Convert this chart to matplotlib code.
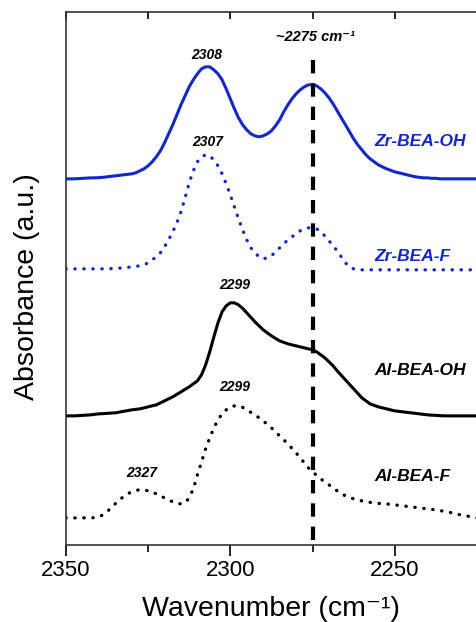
import matplotlib
matplotlib.use("Agg")
import matplotlib.pyplot as plt

plt.rcParams['font.family'] = ['Liberation Sans', 'DejaVu Sans']

# wavenumber grid (cm-1), 1.25 cm-1 steps from 2350 down to 2225
wn = [2350 - 1.25 * i for i in range(101)]

# offset absorbance traces (a.u.), ten points per row
zr_oh = [3.66, 3.66, 3.66, 3.662, 3.665, 3.667, 3.67, 3.67, 3.672, 3.675,
         3.68, 3.685, 3.69, 3.695, 3.70, 3.705, 3.71, 3.72, 3.74, 3.76,
         3.79, 3.83, 3.88, 3.94, 4.02, 4.11, 4.20, 4.30, 4.40, 4.49,
         4.58, 4.65, 4.71, 4.76, 4.78, 4.78, 4.75, 4.71, 4.65, 4.56,
         4.46, 4.36, 4.27, 4.20, 4.15, 4.11, 4.09, 4.08, 4.09, 4.11,
         4.14, 4.19, 4.25, 4.33, 4.40, 4.46, 4.51, 4.55, 4.58, 4.60,
         4.60, 4.59, 4.56, 4.52, 4.47, 4.41, 4.34, 4.27, 4.20, 4.13,
         4.06, 4.00, 3.95, 3.90, 3.86, 3.83, 3.80, 3.78, 3.76, 3.745,
         3.73, 3.72, 3.71, 3.70, 3.69, 3.68, 3.675, 3.67, 3.67, 3.665,
         3.665, 3.66, 3.66, 3.66, 3.66, 3.66, 3.66, 3.66, 3.66, 3.66,
         3.66]
zr_f = [2.76, 2.76, 2.76, 2.76, 2.76, 2.76, 2.76, 2.76, 2.76, 2.76,
        2.76, 2.762, 2.765, 2.767, 2.77, 2.775, 2.78, 2.785, 2.79, 2.80,
        2.82, 2.85, 2.88, 2.92, 2.98, 3.05, 3.13, 3.22, 3.33, 3.47,
        3.62, 3.74, 3.83, 3.88, 3.90, 3.89, 3.85, 3.79, 3.71, 3.61,
        3.50, 3.38, 3.26, 3.15, 3.05, 2.97, 2.92, 2.88, 2.86, 2.87,
        2.89, 2.93, 2.97, 3.01, 3.05, 3.08, 3.11, 3.14, 3.16, 3.17,
        3.17, 3.16, 3.13, 3.09, 3.04, 2.99, 2.94, 2.88, 2.82, 2.78,
        2.76, 2.75, 2.75, 2.75, 2.75, 2.75, 2.75, 2.75, 2.75, 2.75,
        2.75, 2.75, 2.75, 2.75, 2.75, 2.75, 2.75, 2.75, 2.75, 2.75,
        2.75, 2.75, 2.75, 2.75, 2.75, 2.75, 2.75, 2.75, 2.75, 2.75,
        2.75]
al_oh = [1.29, 1.29, 1.29, 1.292, 1.295, 1.297, 1.30, 1.305, 1.31, 1.312,
         1.315, 1.318, 1.32, 1.327, 1.335, 1.342, 1.35, 1.355, 1.36, 1.37,
         1.38, 1.39, 1.40, 1.42, 1.44, 1.46, 1.48, 1.505, 1.53, 1.555,
         1.58, 1.61, 1.64, 1.70, 1.80, 1.93, 2.08, 2.22, 2.33, 2.39,
         2.42, 2.42, 2.40, 2.365, 2.32, 2.275, 2.23, 2.19, 2.15, 2.12,
         2.09, 2.065, 2.04, 2.025, 2.01, 2.00, 1.99, 1.98, 1.97, 1.96,
         1.95, 1.93, 1.90, 1.87, 1.83, 1.79, 1.74, 1.695, 1.65, 1.605,
         1.56, 1.515, 1.47, 1.44, 1.41, 1.395, 1.38, 1.37, 1.36, 1.35,
         1.34, 1.335, 1.33, 1.325, 1.32, 1.315, 1.31, 1.305, 1.30, 1.297,
         1.295, 1.292, 1.29, 1.29, 1.29, 1.29, 1.29, 1.29, 1.29, 1.29,
         1.29]
al_f = [0.27, 0.27, 0.27, 0.27, 0.27, 0.27, 0.27, 0.272, 0.28, 0.30,
        0.33, 0.37, 0.41, 0.45, 0.48, 0.51, 0.53, 0.545, 0.55, 0.55,
        0.54, 0.53, 0.51, 0.49, 0.47, 0.45, 0.43, 0.415, 0.41, 0.42,
        0.47, 0.56, 0.70, 0.83, 0.96, 1.07, 1.17, 1.25, 1.31, 1.35,
        1.38, 1.39, 1.39, 1.375, 1.35, 1.325, 1.30, 1.27, 1.24, 1.205,
        1.17, 1.13, 1.09, 1.05, 1.01, 0.965, 0.92, 0.87, 0.82, 0.77,
        0.73, 0.695, 0.66, 0.63, 0.60, 0.57, 0.54, 0.515, 0.49, 0.475,
        0.46, 0.45, 0.44, 0.432, 0.425, 0.42, 0.415, 0.412, 0.41, 0.405,
        0.40, 0.395, 0.39, 0.385, 0.38, 0.375, 0.37, 0.365, 0.36, 0.355,
        0.35, 0.343, 0.335, 0.328, 0.32, 0.31, 0.30, 0.293, 0.285, 0.278,
        0.27]

names = ["Zr-BEA-OH", "Zr-BEA-F", "Al-BEA-OH", "Al-BEA-F"]
name_y = [4.03, 2.88, 1.74, 0.68]

# peak annotations: (wavenumber, text y, label)
peaks = [(2307.3, 4.90, "2308"), (2306.8, 4.03, "2307"),
         (2298.7, 2.60, "2299"), (2298.7, 1.58, "2299"),
         (2327.0, 0.72, "2327")]

blue = "#1428c8"

fig = plt.figure(figsize=(4.77, 6.22), dpi=100)
ax = fig.add_axes([0.138, 0.124, 0.862, 0.857])

dots = (0, (0.1, 2.6))
ax.plot(wn, zr_oh, color=blue, lw=2.2)
ax.plot(wn, zr_f, color=blue, lw=2.4, linestyle=dots, dash_capstyle="round")
ax.plot(wn, al_oh, color="black", lw=2.2)
ax.plot(wn, al_f, color="black", lw=2.4, linestyle=dots, dash_capstyle="round")

# reference line for the shared band
ax.plot([2275, 2275], [0.05, 4.93], color="black", lw=3, linestyle=(0, (3.2, 2.4)))
ax.text(2274, 5.08, "~2275 cm\u207b\u00b9", ha="center", va="center",
        fontsize=10.5, fontweight="bold", fontstyle="italic")

for w, y, t in peaks:
    ax.text(w, y, t, ha="center", va="center", fontsize=10,
            fontweight="bold", fontstyle="italic")

for n, y, c in zip(names, name_y, [blue, blue, "black", "black"]):
    ax.text(2256.3, y, n, ha="left", va="center", fontsize=12.5,
            fontweight="bold", fontstyle="italic", color=c)

ax.set_xlim(2350, 2225)
ax.set_ylim(0, 5.33)
ax.set_xticks([2350, 2300, 2250])
ax.set_xticks([2325, 2275, 2225], minor=True)
ax.set_yticks([])
ax.tick_params(axis="x", which="major", direction="out", length=8, width=1.2,
               labelsize=16, pad=3, top=True)
ax.tick_params(axis="x", which="minor", direction="out", length=5, width=1.2, top=True)
ax.spines["right"].set_visible(False)
for s in ["left", "top", "bottom"]:
    ax.spines[s].set_linewidth(1.2)
    ax.spines[s].set_color("#333333")

# top ticks point into the plot
for t in ax.xaxis.get_major_ticks() + ax.xaxis.get_minor_ticks():
    t.tick2line.set_marker(3)
    t.tick2line.set_markersize(5)

ax.set_xlabel("Wavenumber (cm\u207b\u00b9)", fontsize=20.5, labelpad=11)
ax.set_ylabel("Absorbance (a.u.)", fontsize=20.5)
ax.yaxis.set_label_coords(-0.062, 0.484)

fig.savefig("out.png", dpi=100)
